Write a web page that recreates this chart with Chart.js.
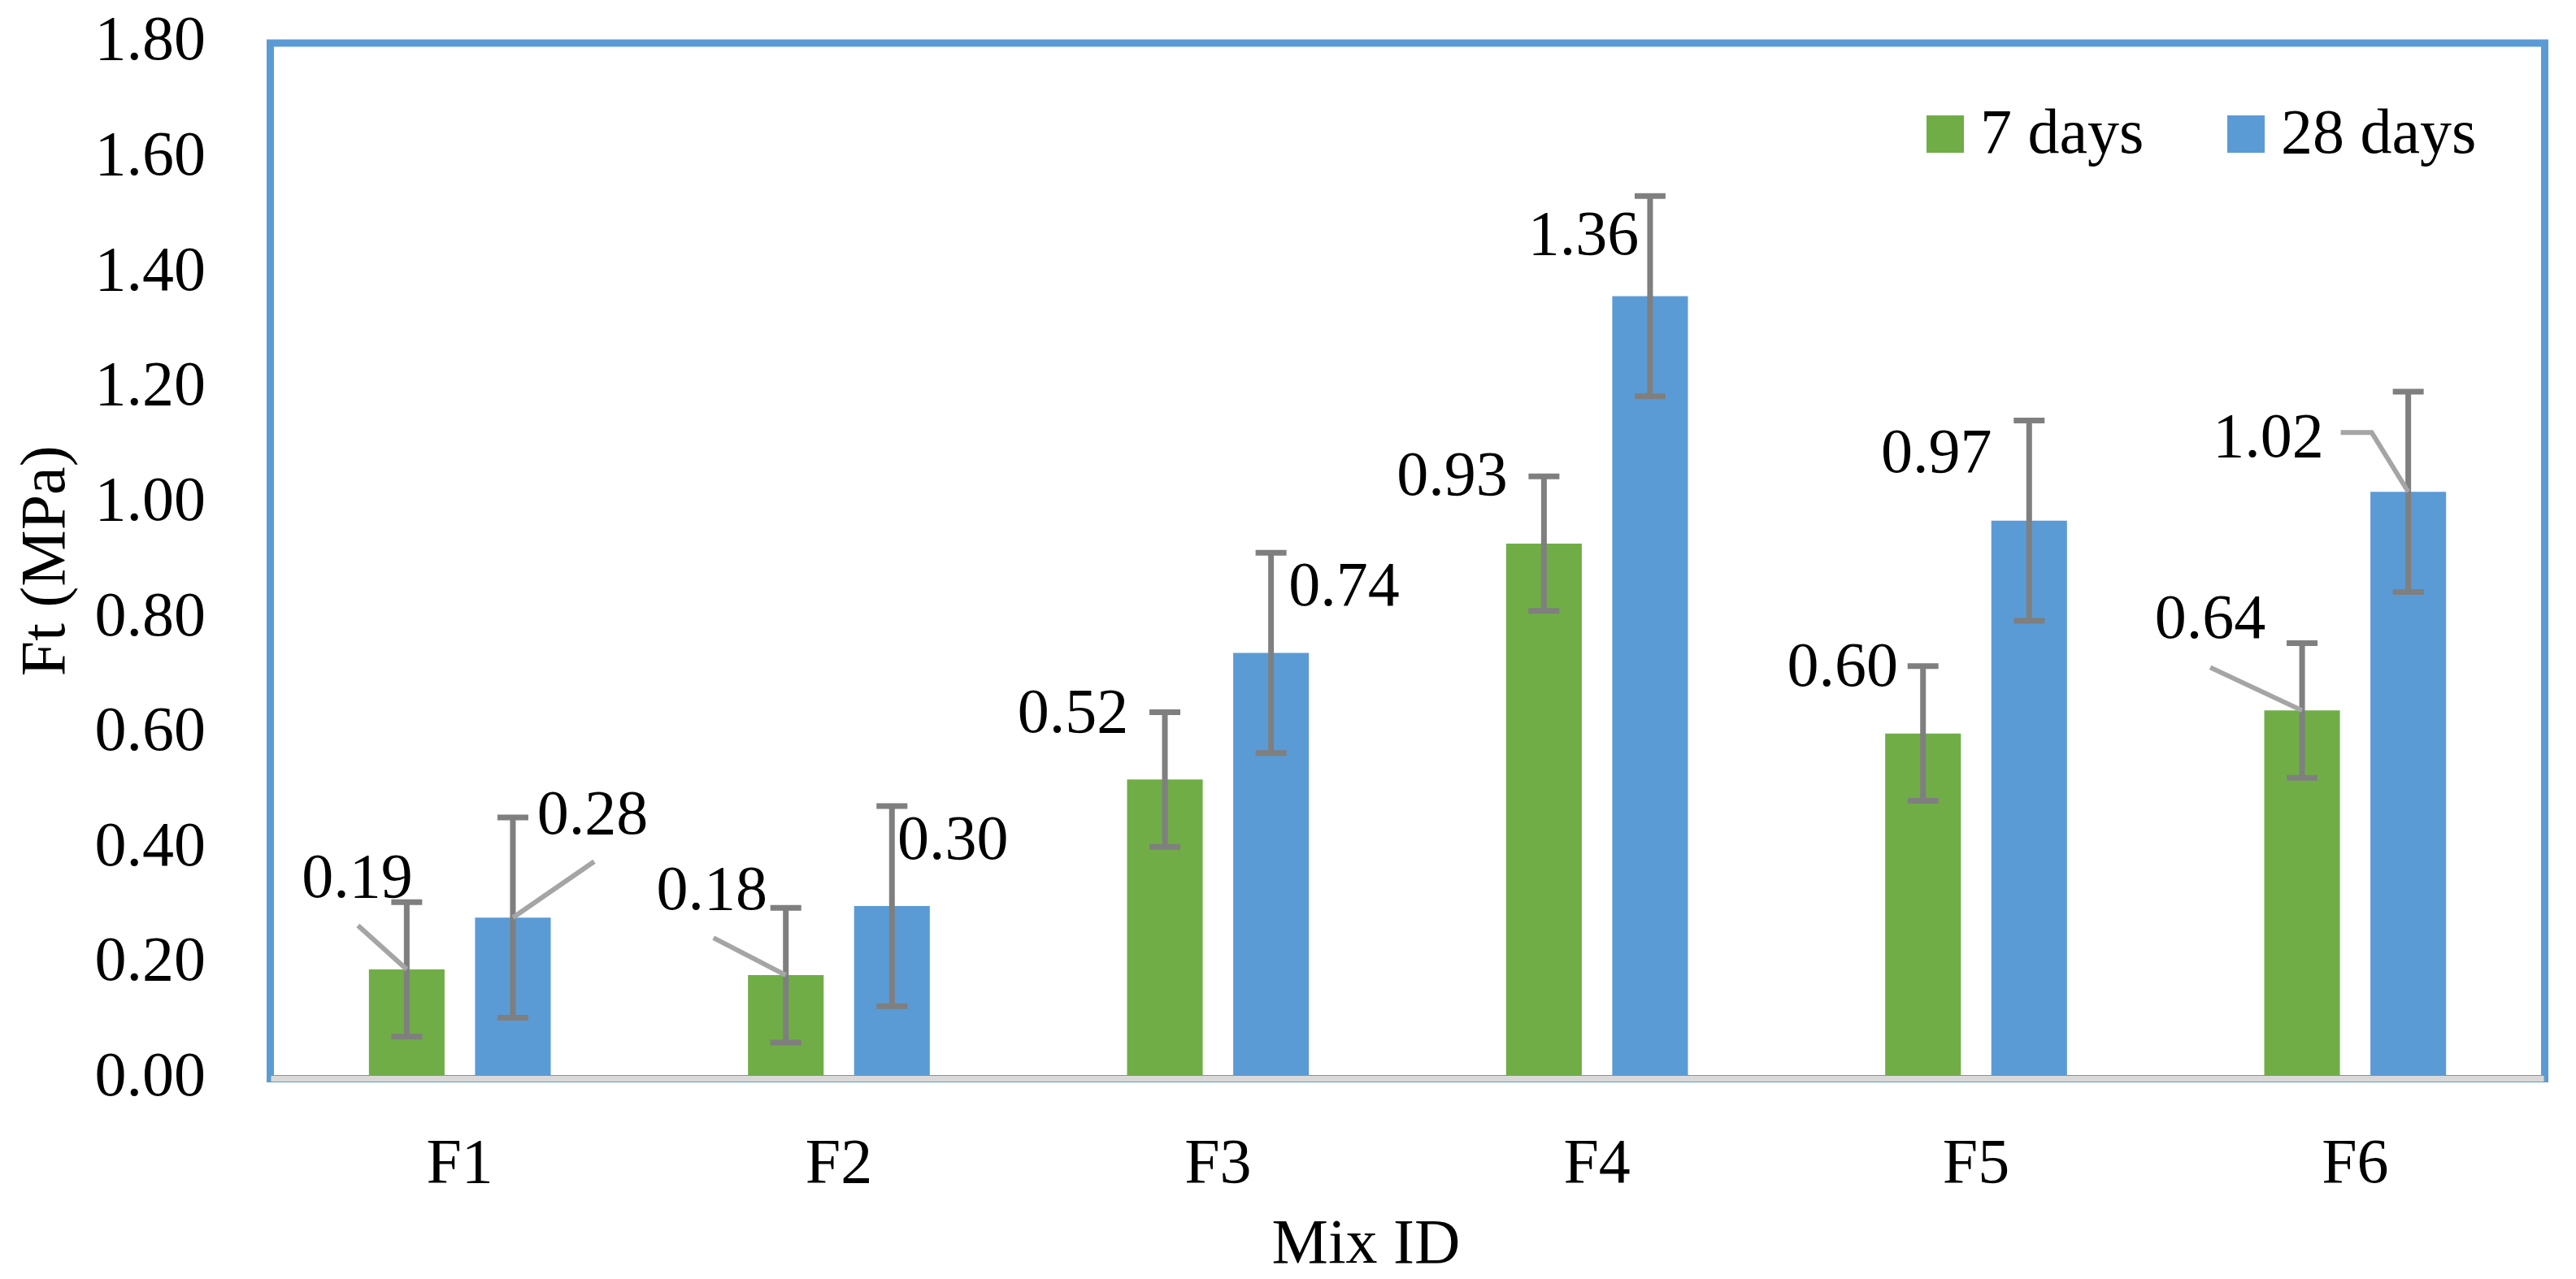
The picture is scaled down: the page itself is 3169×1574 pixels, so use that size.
<!DOCTYPE html>
<html><head><meta charset="utf-8">
<script src="https://cdn.jsdelivr.net/npm/chart.js@4.4.0/dist/chart.umd.min.js"></script>
<style>html,body{margin:0;padding:0;background:#fff;overflow:hidden}</style>
</head><body>
<canvas id="c" width="3169" height="1574" style="display:block;width:3169px;height:1574px"></canvas>
<script>
// ---- data ----
const categories = ['F1', 'F2', 'F3', 'F4', 'F5', 'F6'];
const seriesNames = ['7 days', '28 days'];
const days7 = [0.19, 0.18, 0.52, 0.93, 0.60, 0.64];
const days28 = [0.28, 0.30, 0.74, 1.36, 0.97, 1.02];
const err7 = [0.117, 0.117, 0.117, 0.117, 0.117, 0.117];
const err28 = [0.174, 0.174, 0.174, 0.174, 0.174, 0.174];
const yTickValues = [0.00, 0.20, 0.40, 0.60, 0.80, 1.00, 1.20, 1.40, 1.60, 1.80];
const xTitle = 'Mix ID';
const yTitle = 'Ft (MPa)';

// ---- label layout (pixel offsets from bar-top centre) ----
const labelOffsets = [
  [[-61, -89], [-91, -81], [-113, -58], [-113, -60], [-99, -59], [-113, -89]],
  [[98, -103], [75, -58], [90, -59], [-82, -52], [-114, -60], [-172, -43]]
];
const leaderPaths = [
  [[[-60, -54]], [[-89, -46]], null, null, null, [[-113, -53]]],
  [[[100, -69]], null, null, null, null, [[-83, -73], [-45, -73]]]
];

const FONT = "'Liberation Serif', 'Times New Roman', serif";
const FS = 78;
const GREEN = '#70ad47', BLUE = '#5b9bd5';
const errors = [err7, err28];

const overlay = {
  id: 'overlay',
  afterDatasetsDraw(chart) {
    const ctx = chart.ctx, a = chart.chartArea, ys = chart.scales.y;
    ctx.save();
    // plot-area frame
    ctx.strokeStyle = BLUE; ctx.lineWidth = 9;
    ctx.strokeRect(a.left, a.top, a.right - a.left, a.bottom - a.top);
    // category axis line
    ctx.strokeStyle = '#d9d9d9'; ctx.lineWidth = 7;
    ctx.beginPath(); ctx.moveTo(a.left + 1, a.bottom); ctx.lineTo(a.right - 1, a.bottom); ctx.stroke();
    // error bars
    ctx.strokeStyle = '#7f7f7f'; ctx.lineWidth = 7; ctx.lineCap = 'butt';
    chart.data.datasets.forEach((ds, di) => {
      chart.getDatasetMeta(di).data.forEach((bar, i) => {
        const v = ds.data[i], e = errors[di][i];
        const yt = ys.getPixelForValue(v + e), yb = ys.getPixelForValue(v - e);
        ctx.beginPath();
        ctx.moveTo(bar.x, yt); ctx.lineTo(bar.x, yb);
        ctx.moveTo(bar.x - 19, yt); ctx.lineTo(bar.x + 19, yt);
        ctx.moveTo(bar.x - 19, yb); ctx.lineTo(bar.x + 19, yb);
        ctx.stroke();
      });
    });
    // leader lines
    ctx.strokeStyle = '#a5a5a5'; ctx.lineWidth = 6; ctx.lineJoin = 'miter';
    chart.data.datasets.forEach((ds, di) => {
      chart.getDatasetMeta(di).data.forEach((bar, i) => {
        const p = leaderPaths[di][i];
        if (!p) return;
        ctx.beginPath();
        ctx.moveTo(bar.x, bar.y);
        for (let k = p.length - 1; k >= 0; k--) ctx.lineTo(bar.x + p[k][0], bar.y + p[k][1]);
        ctx.stroke();
      });
    });
    // data labels
    ctx.fillStyle = '#000'; ctx.font = FS + 'px ' + FONT;
    ctx.textAlign = 'center'; ctx.textBaseline = 'alphabetic';
    chart.data.datasets.forEach((ds, di) => {
      chart.getDatasetMeta(di).data.forEach((bar, i) => {
        const o = labelOffsets[di][i];
        ctx.fillText(ds.data[i].toFixed(2), bar.x + o[0], bar.y + o[1]);
      });
    });
    ctx.restore();
  },
  afterDraw(chart) {
    const ctx = chart.ctx, a = chart.chartArea;
    ctx.save();
    ctx.font = FS + 'px ' + FONT; ctx.fillStyle = '#000';
    // x-axis title
    ctx.textAlign = 'center'; ctx.textBaseline = 'alphabetic';
    ctx.fillText(xTitle, (a.left + a.right) / 2 - 51, 1554);
    // legend
    const items = [{x: 2370, c: GREEN, t: chart.data.datasets[0].label},
                   {x: 2740, c: BLUE, t: chart.data.datasets[1].label}];
    ctx.textAlign = 'left';
    items.forEach(it => {
      ctx.fillStyle = it.c; ctx.fillRect(it.x, 142, 46, 46);
      ctx.fillStyle = '#000'; ctx.fillText(it.t, it.x + 66, 188);
    });
    ctx.restore();
  }
};

new Chart(document.getElementById('c'), {
  type: 'bar',
  data: {
    labels: categories,
    datasets: [
      {label: seriesNames[0], data: days7, backgroundColor: GREEN, borderWidth: 0},
      {label: seriesNames[1], data: days28, backgroundColor: BLUE, borderWidth: 0}
    ]
  },
  options: {
    responsive: false, animation: false, devicePixelRatio: 1,
    categoryPercentage: 0.56, barPercentage: 0.713,
    layout: {padding: {top: 53, right: 38.5, left: 0, bottom: 0}},
    plugins: {legend: {display: false}, tooltip: {enabled: false}},
    scales: {
      x: {
        grid: {display: false, drawTicks: false}, border: {display: false},
        ticks: {font: {family: FONT, size: FS}, color: '#000', padding: 60, maxRotation: 0},
        afterFit(s) { s.height = 246.5; s.paddingLeft = 0; s.paddingRight = 0; }
      },
      y: {
        min: 0, max: 1.8,
        afterBuildTicks(s) { s.ticks = yTickValues.map(v => ({value: v})); },
        grid: {display: false, drawTicks: false}, border: {display: false},
        ticks: {font: {family: FONT, size: FS}, color: '#000', padding: 79.5,
                callback: v => Number(v).toFixed(2)},
        title: {display: true, text: yTitle, color: '#000',
                font: {family: FONT, size: FS, lineHeight: 1}, padding: {top: 20, bottom: 0}},
        afterFit(s) { s.width = 332.5; s.paddingTop = 0; s.paddingBottom = 0; }
      }
    }
  },
  plugins: [overlay]
});
</script>
</body></html>
